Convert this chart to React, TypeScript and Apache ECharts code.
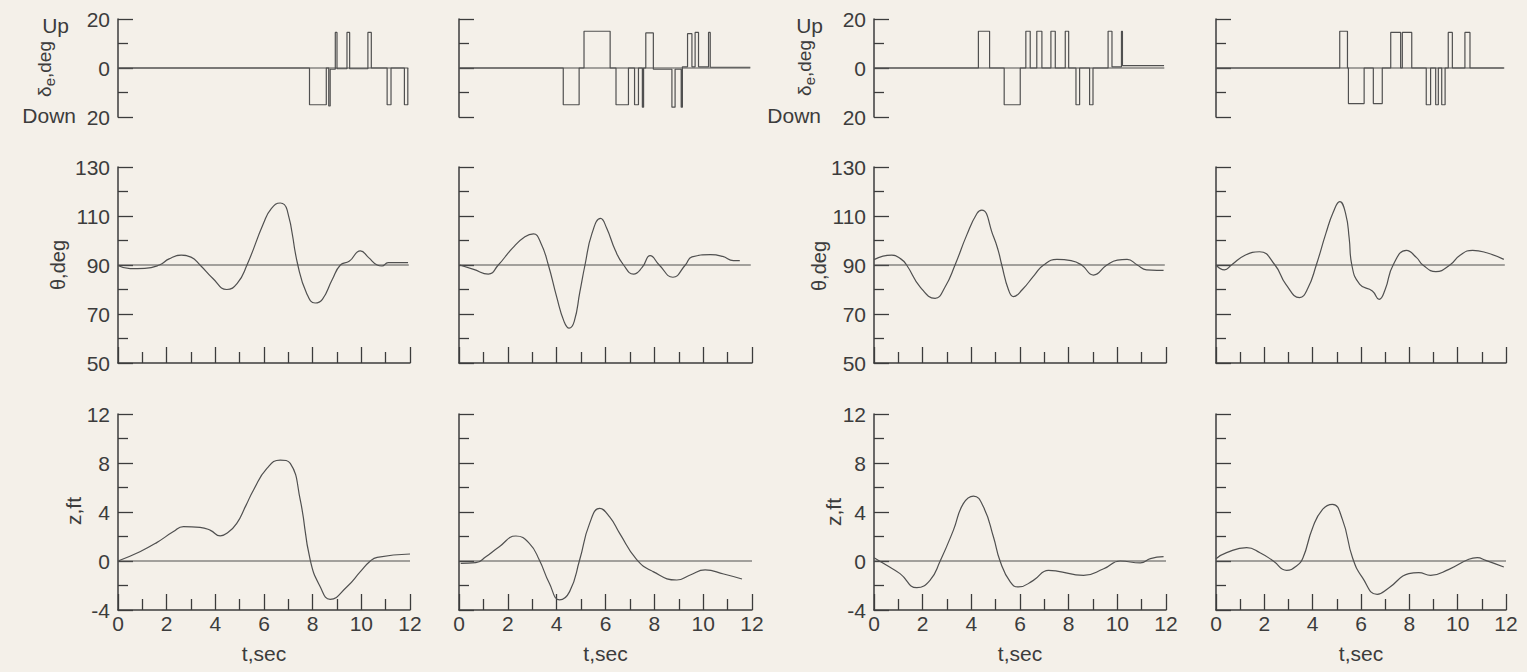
import React, { useEffect, useRef } from "react";
import * as echarts from "echarts";

type Pt = [number, number];

// ---- Data (t in sec) ----
// Elevator deflection δe (deg, + = up, - = down): change points of a step trace
const ELEVATOR_A: Pt[] = [
  [0, 0], [7.87, -15], [8.56, 0], [8.66, -15.5], [8.72, -0.5], [8.93, 14.5], [9.0, -0.3],
  [9.41, 14.5], [9.52, -0.3], [10.27, 14.5], [10.41, 0], [11.06, -15], [11.22, 0],
  [11.77, -15], [11.91, 0],
];
const ELEVATOR_B: Pt[] = [
  [0, 0], [4.27, -15], [4.92, 0], [5.12, 15], [6.19, 0], [6.43, -15], [6.94, 0],
  [7.19, -15], [7.35, 0], [7.51, -16], [7.56, 0], [7.65, 14.3], [7.96, -0.5],
  [8.72, -16], [8.85, -0.5], [9.1, -16], [9.15, 0.5], [9.36, 14], [9.54, 0.5],
  [9.67, 14.5], [9.81, 0.5], [10.22, 14.5], [10.29, 0.3], [11.93, 0.3],
];
const ELEVATOR_C: Pt[] = [
  [0, 0], [4.29, 15], [4.75, 0], [5.35, -15], [6.01, 0], [6.24, 15], [6.42, 0],
  [6.69, 15], [6.9, 0], [7.27, 15], [7.45, 0], [7.86, 15], [8.0, 0], [8.3, -15],
  [8.45, 0], [8.86, -15], [9.0, 0], [9.62, 15], [9.78, 0.5], [10.17, 15], [10.21, 1],
  [11.92, 1],
];
const ELEVATOR_D: Pt[] = [
  [0, 0], [5.12, 15], [5.44, 0], [5.48, -14.5], [6.13, 0], [6.51, -14.5], [6.88, 0],
  [7.23, 14.5], [7.64, 0], [7.71, 14.5], [8.1, 0], [8.7, -15], [8.88, 0], [9.09, -15],
  [9.2, 0], [9.34, -15], [9.48, 0], [9.61, 14.5], [9.78, 0], [10.3, 14.5], [10.51, 0],
  [11.91, 0],
];

// Pitch attitude θ (deg)
const PITCH_A: Pt[] = [
  [0, 89.8], [0.5, 88.5], [1.1, 88.6], [1.7, 90], [2.1, 92.5], [2.6, 94], [3.0, 93.2],
  [3.37, 90], [3.9, 84.5], [4.47, 80], [4.9, 82.5], [5.3, 90], [5.98, 107], [6.3, 113],
  [6.67, 115.3], [6.95, 112.5], [7.39, 90], [7.75, 78.5], [8.1, 74.5], [8.4, 76],
  [8.8, 84], [9.14, 90], [9.5, 91.5], [9.96, 95.8], [10.3, 93], [10.65, 90],
  [10.85, 89.6], [11.1, 91], [11.92, 91],
];
const PITCH_B: Pt[] = [
  [0.03, 90], [0.6, 88.2], [1.2, 86.3], [1.61, 90], [2.2, 97], [2.7, 101.5], [3.05, 102.7],
  [3.35, 99], [3.66, 90], [4.0, 77], [4.3, 67], [4.51, 64.2], [4.72, 67], [4.95, 79],
  [5.16, 90], [5.45, 103], [5.8, 109], [6.05, 105], [6.4, 96], [6.74, 90], [7.15, 86.3],
  [7.5, 89], [7.83, 93.8], [8.2, 90], [8.76, 85], [9.27, 90], [9.54, 93.3], [10.3, 94.2],
  [10.8, 93.5], [11.24, 91.8], [11.5, 91.8],
];
const PITCH_C: Pt[] = [
  [0, 92.2], [0.73, 94], [1.1, 92.5], [1.34, 90], [1.9, 81], [2.51, 76.4], [2.92, 81],
  [3.33, 90], [3.81, 102.2], [4.23, 111], [4.43, 112.4], [4.91, 101.6], [5.1, 96.1],
  [5.25, 90], [5.53, 79.8], [5.73, 77.1], [6.1, 80], [6.6, 86], [6.97, 90], [7.52, 92.3],
  [8.1, 91.8], [8.53, 90], [9.02, 85.9], [9.57, 90], [10.0, 92], [10.4, 92.3],
  [10.82, 90], [11.2, 88], [11.63, 87.8], [11.9, 87.8],
];
const PITCH_D: Pt[] = [
  [0, 90], [0.35, 88], [0.64, 90], [1.2, 94], [1.8, 95.4], [2.44, 90], [2.9, 82],
  [3.46, 76.7], [3.8, 80.5], [4.15, 90], [4.55, 103], [4.85, 111.5], [5.12, 115.9],
  [5.37, 110.7], [5.51, 101], [5.62, 90], [5.95, 82.1], [6.47, 79.4], [6.75, 76],
  [7.0, 80], [7.33, 90], [7.88, 96], [8.3, 93], [8.56, 90], [9.1, 87.3], [9.68, 90],
  [10.1, 94], [10.62, 96], [11.2, 95], [11.91, 92.3],
];

// Height change z (ft)
const HEIGHT_A: Pt[] = [
  [0, 0], [0.9, 0.76], [1.59, 1.5], [2.28, 2.4], [2.69, 2.8], [3.37, 2.75], [3.8, 2.5],
  [4.2, 2.05], [4.5, 2.3], [4.88, 3.07], [5.25, 4.5], [5.57, 5.8], [6.12, 7.56],
  [6.67, 8.24], [7.08, 7.97], [7.49, 4.98], [7.9, 0.08], [8.31, -2.1], [8.72, -3.13],
  [9.41, -2.1], [9.96, -0.87], [10.37, 0], [10.65, 0.3], [12.0, 0.57],
];
const HEIGHT_B: Pt[] = [
  [0.07, -0.19], [0.69, -0.14], [1.1, 0.35], [1.65, 1.17], [2.33, 2.04], [2.88, 1.44],
  [3.29, 0.08], [3.7, -1.82], [4.12, -3.18], [4.53, -2.5], [4.94, 0.08], [5.35, 3.07],
  [5.76, 4.3], [6.17, 3.6], [6.58, 2.26], [7.27, 0.14], [7.95, -0.87], [8.92, -1.55],
  [9.47, -1.14], [10.08, -0.73], [10.84, -1.06], [11.59, -1.47],
];
const HEIGHT_C: Pt[] = [
  [0, 0.27], [0.52, -0.35], [1.07, -1.03], [1.76, -2.18], [2.3, -1.58], [2.72, 0],
  [3.26, 2.5], [3.67, 4.68], [4.09, 5.3], [4.5, 4.4], [4.91, 1.96], [5.18, 0],
  [5.6, -1.71], [5.94, -2.12], [6.55, -1.58], [7.17, -0.76], [7.52, -0.82], [8.61, -1.17],
  [9.44, -0.63], [10.12, 0], [10.95, -0.16], [11.36, 0.19], [11.9, 0.35],
];
const HEIGHT_D: Pt[] = [
  [0, 0.19], [0.44, 0.68], [1.27, 1.09], [1.82, 0.68], [2.37, 0], [2.92, -0.76],
  [3.33, -0.41], [3.6, 0.27], [4.0, 2.72], [4.41, 4.22], [4.82, 4.63], [5.23, 3.4],
  [5.65, 0.27], [6.06, -1.36], [6.67, -2.72], [7.16, -2.18], [7.98, -1.03], [8.39, -0.95],
  [8.88, -1.17], [9.64, -0.68], [10.46, 0.14], [10.81, 0.27], [11.16, 0.05], [11.91, -0.49],
];

// Axes
const TIME_RANGE = { min: 0, max: 12, interval: 2 };
const ELEVATOR_RANGE = { min: -20, max: 20, interval: 20 };
const PITCH_RANGE = { min: 50, max: 130, interval: 20 };
const HEIGHT_RANGE = { min: -4, max: 12, interval: 4 };
const REFERENCE_LEVELS = [0, 90, 0];
const REFERENCE_END = [11.93, 11.95, 12];

// Labels
const ELEVATOR_NAME = "{a|δ}{s|e}{a|,deg}";
const PITCH_NAME = "θ,deg";
const HEIGHT_NAME = "z,ft";
const TIME_NAME = "t,sec";
const UP_LABEL = "Up";
const DOWN_LABEL = "Down";

// ---- Layout / style ----
const W = 1527;
const H = 672;
const COL_LEFT = [118, 459, 874, 1216];
const COL_WIDTH = [292, 293, 292, 290];
const ROW_TOP = [19, 167, 414];
const ROW_HEIGHT = [98, 196, 196];
const LABELED_COLS = [0, 2];
const BG = "#f4f0e9";
const INK = "#3c3c3c";
const TRACE = "#505050";
const FONT = "Liberation Sans";
const FS = 21;

export default function App() {
  const ref = useRef<HTMLDivElement>(null);

  useEffect(() => {
    if (!ref.current) return;
    const chart = echarts.init(ref.current, undefined, { renderer: "svg" });

    const rows = [
      { range: ELEVATOR_RANGE, traces: [ELEVATOR_A, ELEVATOR_B, ELEVATOR_C, ELEVATOR_D], step: true },
      { range: PITCH_RANGE, traces: [PITCH_A, PITCH_B, PITCH_C, PITCH_D], step: false },
      { range: HEIGHT_RANGE, traces: [HEIGHT_A, HEIGHT_B, HEIGHT_C, HEIGHT_D], step: false },
    ];

    const grid: any[] = [];
    const xAxis: any[] = [];
    const yAxis: any[] = [];
    const series: any[] = [];
    const textStyle = { fontFamily: FONT, fontSize: FS, color: INK };

    rows.forEach((row, r) => {
      for (let c = 0; c < 4; c++) {
        const idx = r * 4 + c;
        grid.push({
          left: COL_LEFT[c],
          top: ROW_TOP[r],
          width: COL_WIDTH[c],
          height: ROW_HEIGHT[r],
          containLabel: false,
          outerBoundsMode: "none",
        });
        xAxis.push({
          type: "value",
          gridIndex: idx,
          min: TIME_RANGE.min,
          max: TIME_RANGE.max,
          interval: TIME_RANGE.interval,
          show: r !== 0,
          axisLine: { show: true, onZero: false, lineStyle: { color: INK, width: 1.5 } },
          axisTick: { show: true, inside: true, length: 16, lineStyle: { color: INK, width: 1.3 } },
          minorTick: { show: true, splitNumber: 2, length: 11, lineStyle: { color: INK, width: 1.3 } },
          axisLabel: { show: r === 2, margin: 3, ...textStyle },
          splitLine: { show: false },
          minorSplitLine: { show: false },
        });
        yAxis.push({
          type: "value",
          gridIndex: idx,
          min: row.range.min,
          max: row.range.max,
          interval: row.range.interval,
          axisLine: { show: true, onZero: false, lineStyle: { color: INK, width: 1.5 } },
          axisTick: { show: true, inside: true, length: 15, lineStyle: { color: INK, width: 1.3 } },
          minorTick: { show: true, splitNumber: 2, length: 10, lineStyle: { color: INK, width: 1.3 } },
          axisLabel: {
            show: LABELED_COLS.includes(c),
            margin: 8,
            ...textStyle,
            formatter: (v: number) => (r === 0 ? String(Math.abs(v)) : String(v)),
          },
          splitLine: { show: false },
          minorSplitLine: { show: false },
        });
        series.push({
          type: "line",
          xAxisIndex: idx,
          yAxisIndex: idx,
          data: [
            [0, REFERENCE_LEVELS[r]],
            [REFERENCE_END[r], REFERENCE_LEVELS[r]],
          ],
          symbol: "none",
          silent: true,
          lineStyle: { color: TRACE, width: 1.2 },
        });
        series.push({
          type: "line",
          xAxisIndex: idx,
          yAxisIndex: idx,
          data: row.traces[c],
          symbol: "none",
          silent: true,
          step: row.step ? "end" : false,
          smooth: row.step ? false : 0.5,
          lineStyle: { color: TRACE, width: 1.2 },
        });
      }
    });

    const graphic: any[] = [];
    const text = (x: number, y: number, s: string, align: string, rotate = 0, rich?: any, size = FS) => ({
      type: "text",
      x,
      y,
      rotation: rotate,
      silent: true,
      style: {
        text: s,
        fill: INK,
        fontFamily: FONT,
        fontSize: size,
        align,
        verticalAlign: "middle",
        ...(rich ? { rich } : {}),
      },
    });
    const subRich = {
      a: { fontFamily: FONT, fontSize: 19, fill: INK, lineHeight: 26, verticalAlign: "middle" },
      s: { fontFamily: FONT, fontSize: 15, fill: INK, lineHeight: 14, verticalAlign: "bottom" },
    };
    // Column 1 names
    graphic.push(text(69, 25, UP_LABEL, "right"));
    graphic.push(text(76, 115, DOWN_LABEL, "right"));
    graphic.push(text(44, 69, ELEVATOR_NAME, "center", Math.PI / 2, subRich, 19));
    graphic.push(text(58, 265, PITCH_NAME, "center", Math.PI / 2, undefined, 20));
    graphic.push(text(73, 511, HEIGHT_NAME, "center", Math.PI / 2));
    // Column 3 names
    graphic.push(text(823, 25, UP_LABEL, "right"));
    graphic.push(text(821, 115, DOWN_LABEL, "right"));
    graphic.push(text(804, 68, ELEVATOR_NAME, "center", Math.PI / 2, subRich, 19));
    graphic.push(text(819, 266, PITCH_NAME, "center", Math.PI / 2, undefined, 20));
    graphic.push(text(833, 512, HEIGHT_NAME, "center", Math.PI / 2));
    // time axis names
    for (let c = 0; c < 4; c++) {
      graphic.push(text(COL_LEFT[c] + COL_WIDTH[c] / 2, 653, TIME_NAME, "center"));
    }

    chart.setOption({
      animation: false,
      backgroundColor: BG,
      grid,
      xAxis,
      yAxis,
      series,
      graphic,
    });

    return () => chart.dispose();
  }, []);

  return (
    <div
      ref={ref}
      style={{ position: "absolute", left: 0, top: 0, width: W, height: H }}
    />
  );
}
